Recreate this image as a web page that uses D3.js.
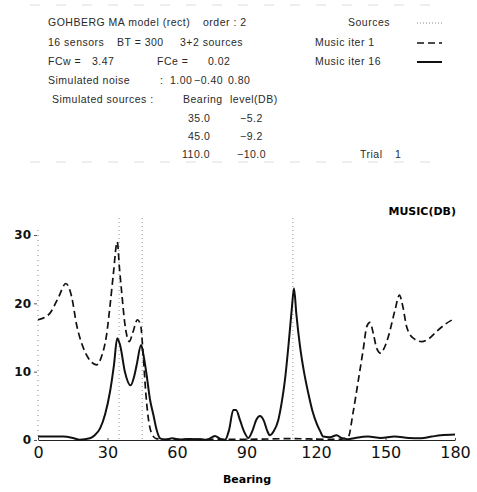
<!DOCTYPE html>
<html>
<head>
<meta charset="utf-8">
<script src="https://cdn.jsdelivr.net/npm/d3@7"></script>
<style>
  body { margin: 0; background: #fff; }
  svg text { font-family: "DejaVu Sans", sans-serif; }
  svg text.info { font-family: "Liberation Sans", sans-serif; font-size: 10.5px; fill: #2a2a2a; letter-spacing: 0.5px; }
</style>
</head>
<body>
<div id="chart"></div>
<script>

// Bearings of the simulated sources (dotted verticals)
var sourceBearings = [35, 45, 110];

// Music iter 1 (dashed)
var iter1Bearing = [0, 5, 9, 12, 14.5, 16.7, 19, 21.7, 25.3, 27.5, 29.6, 31.2, 32.5, 34.2, 35.2, 36.1, 37.5, 39.4, 41, 42.9, 44.3, 45.5, 46.5, 47.5, 49, 51, 55, 70, 90, 110, 125, 130, 132, 134, 136, 138.3, 140.5, 141.9, 143.3, 144.8, 146.2, 147.9, 149.5, 151.2, 154.1, 156, 157.5, 159.1, 162, 165.6, 169, 172.1, 176, 180];
var iter1Level   = [17.6, 18.5, 21, 22.9, 21, 16.8, 14, 12, 11, 12.3, 15.4, 20, 24.2, 29, 25, 21.7, 17, 14.4, 15.8, 17.6, 16.8, 12, 7, 3.5, 1, 0.2, 0.1, 0.1, 0.1, 0.2, 0.1, 0.1, 0.2, 0.5, 4, 8.8, 13.5, 16.6, 17.2, 15.5, 13.4, 12.7, 13.5, 15.1, 19, 21.2, 19.5, 16.6, 14.9, 14.4, 14.9, 15.9, 17, 17.8];

// Music iter 16 (solid)
var iter16Bearing = [0, 5, 10.9, 15, 18, 22.4, 24.5, 26.8, 29, 31.1, 32.8, 34.2, 35.5, 37.5, 40, 41.5, 42.6, 44.5, 45.5, 46.9, 48.3, 49.8, 51.2, 52.7, 55, 58, 61, 65, 70, 73, 76.4, 78.5, 80.7, 82.5, 84.3, 85.5, 87.2, 89, 90.8, 92.5, 94.3, 95.8, 97.5, 99, 100.1, 101.8, 103.7, 105.2, 106.6, 108.3, 109.5, 110.5, 111.5, 113.1, 114.8, 116.7, 118.5, 120.3, 121.8, 123.1, 126, 128.9, 131, 133.8, 137, 142.4, 148, 153.9, 160, 165.3, 170, 173.9, 180];
var iter16Level   = [0.5, 0.5, 0.5, 0.3, 0.05, 0.25, 0.7, 1.7, 3.8, 7.1, 11, 14.9, 13.8, 10, 8, 9.3, 11, 13.9, 12.5, 9.5, 6, 3.7, 1.5, 0.25, 0.05, 0.25, 0.05, 0.15, 0.1, 0.05, 0.6, 0.2, 0, 1.5, 4.4, 4.4, 2.9, 1.2, 0.3, 1.3, 3, 3.5, 2.8, 1.3, 0.7, 1.3, 2.9, 5.5, 8.8, 14.5, 19, 22.2, 18.5, 13.7, 10, 6.8, 4.2, 2.4, 1.3, 0.5, 0.4, 0.7, 0.3, 0.1, 0.3, 0.5, 0.3, 0.5, 0.3, 0.25, 0.5, 0.7, 0.8];

var xTicks = [0, 30, 60, 90, 120, 150, 180];
var yTicks = [0, 10, 20, 30];

// header text block : [text, x, row]
var infoRows = [22, 42, 61, 80, 99, 118, 136, 154];
var infoText = [
  ["GOHBERG MA model (rect)", 48, 0], ["order : 2", 203, 0],
  ["16 sensors", 48, 1], ["BT = 300", 117, 1], ["3+2 sources", 180, 1],
  ["FCw =", 48, 2], ["3.47", 92, 2], ["FCe =", 157, 2], ["0.02", 208, 2],
  ["Simulated noise", 48, 3], [":", 160, 3], ["1.00", 170, 3], ["\u22120.40", 194, 3], ["0.80", 228, 3],
  ["Simulated sources :", 52, 4], ["Bearing", 183, 4], ["level(DB)", 230, 4],
  ["35.0", 188, 5], ["\u22125.2", 240, 5],
  ["45.0", 188, 6], ["\u22129.2", 240, 6],
  ["110.0", 182, 7], ["\u221210.0", 237, 7],
  ["Trial", 360, 7], ["1", 395, 7]
];
var legendNames = ["Sources", "Music iter  1", "Music iter 16"];

var width = 477, height = 492;

var svg = d3.select("#chart").append("svg")
    .attr("width", width)
    .attr("height", height);

var x = d3.scaleLinear().domain([0, 180]).range([38, 455]);
var y = d3.scaleLinear().domain([0, 30]).range([440, 235]);

// faint separator rules above/below the header
[5, 162].forEach(function(yy) {
  svg.append("line")
    .attr("x1", 30).attr("x2", 445)
    .attr("y1", yy).attr("y2", yy)
    .attr("stroke", "#dcdcdc")
    .attr("stroke-width", 1)
    .attr("stroke-dasharray", "10,16");
});

svg.selectAll("text.info")
    .data(infoText)
  .enter().append("text")
    .attr("class", "info")
    .attr("x", function(d) { return d[1]; })
    .attr("y", function(d) { return infoRows[d[2]] + 4; })
    .text(function(d) { return d[0]; });

// legend
var legendStyle = [
  {dash: "1,2", w: 1, c: "#888"},
  {dash: "7,4", w: 1.6, c: "#111"},
  {dash: null, w: 2, c: "#111"}
];
var legendX = [348, 315, 315];
legendNames.forEach(function(name, i) {
  var yy = infoRows[i];
  svg.append("text")
    .attr("class", "info")
    .attr("x", legendX[i])
    .attr("y", yy + 4)
    .text(name);
  svg.append("line")
    .attr("x1", 417).attr("x2", 442)
    .attr("y1", yy + 1).attr("y2", yy + 1)
    .attr("stroke", legendStyle[i].c)
    .attr("stroke-width", legendStyle[i].w)
    .attr("stroke-dasharray", legendStyle[i].dash);
});

// source bearings
svg.selectAll("line.src")
    .data(sourceBearings)
  .enter().append("line")
    .attr("class", "src")
    .attr("x1", function(d) { return x(d); })
    .attr("x2", function(d) { return x(d); })
    .attr("y1", 218)
    .attr("y2", y(0))
    .attr("stroke", "#999")
    .attr("stroke-width", 1)
    .attr("stroke-dasharray", "1,3");

// y axis - dotted line, small dash ticks
svg.append("line")
    .attr("x1", x(0)).attr("x2", x(0))
    .attr("y1", y(30) - 5).attr("y2", y(0))
    .attr("stroke", "#888")
    .attr("stroke-dasharray", "1,4");

var yAxis = d3.axisLeft(y).tickValues(yTicks).tickSize(3).tickPadding(3);
var gy = svg.append("g")
    .attr("transform", "translate(" + (x(0) - 1) + ",0)")
    .call(yAxis);
gy.select(".domain").remove();
gy.selectAll(".tick line").attr("stroke", "#555");
gy.selectAll(".tick text")
    .style("font-size", "12px")
    .style("font-weight", "bold")
    .attr("fill", "#111");

// x axis
var xAxis = d3.axisBottom(x).tickValues(xTicks).tickSize(-2).tickPadding(7).tickSizeOuter(0);
var gx = svg.append("g")
    .attr("transform", "translate(0," + y(0) + ")")
    .call(xAxis);
gx.select(".domain").attr("stroke", "#222").attr("stroke-width", 1.2);
gx.selectAll(".tick line").attr("stroke", "#444");
gx.selectAll(".tick text")
    .style("font-size", "16px")
    .attr("fill", "#111");

svg.append("text")
    .attr("x", 247)
    .attr("y", 483)
    .attr("text-anchor", "middle")
    .style("font-size", "11px")
    .style("font-weight", "bold")
    .text("Bearing");

svg.append("text")
    .attr("x", 456)
    .attr("y", 215)
    .attr("text-anchor", "end")
    .style("font-size", "11px")
    .style("font-weight", "bold")
    .text("MUSIC(DB)");

// the two music spectra
var line = d3.line()
    .x(function(d) { return x(d[0]); })
    .y(function(d) { return y(d[1]); })
    .curve(d3.curveMonotoneX);

svg.append("path")
    .datum(d3.zip(iter1Bearing, iter1Level))
    .attr("d", line)
    .attr("fill", "none")
    .attr("stroke", "#111")
    .attr("stroke-width", 1.7)
    .attr("stroke-dasharray", "7,4");

svg.append("path")
    .datum(d3.zip(iter16Bearing, iter16Level))
    .attr("d", line)
    .attr("fill", "none")
    .attr("stroke", "#111")
    .attr("stroke-width", 2);

</script>
</body>
</html>
